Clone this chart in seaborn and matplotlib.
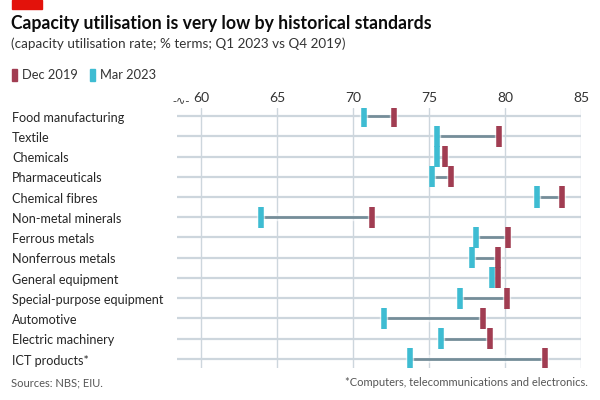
import numpy as np
import pandas as pd
import matplotlib
matplotlib.use("Agg")
import matplotlib.pyplot as plt
import matplotlib.patheffects as pe
import matplotlib.transforms as mtransforms
import seaborn as sns

# Values
industries = [
    "Food manufacturing", "Textile", "Chemicals", "Pharmaceuticals",
    "Chemical fibres", "Non-metal minerals", "Ferrous metals",
    "Nonferrous metals", "General equipment", "Special-purpose equipment",
    "Automotive", "Electric machinery", "ICT products*",
]
dec_2019 = [72.7, 79.6, 76.0, 76.4, 83.7, 71.2, 80.2, 79.5, 79.5, 80.1, 78.5, 79.0, 82.6]
mar_2023 = [70.7, 75.5, 75.5, 75.2, 82.1, 63.9, 78.1, 77.8, 79.1, 77.0, 72.0, 75.8, 73.7]
x_ticks = [60, 65, 70, 75, 80, 85]

RED = "#A13D52"
CYAN = "#3EBCD2"
LINE = "#758D99"
GRID = "#CDD6DD"

sns.set_theme(style="white")
plt.rcParams["font.family"] = ["Lato", "DejaVu Sans"]

df = pd.DataFrame({"industry": industries, "Dec 2019": dec_2019, "Mar 2023": mar_2023})
df["pos"] = np.arange(len(df))
long = df.melt(id_vars=["industry", "pos"], value_vars=["Dec 2019", "Mar 2023"],
               var_name="period", value_name="rate")

fig = plt.figure(figsize=(6, 4), dpi=100)
ax = fig.add_axes([177 / 600, 1 - 368 / 400, (581.3 - 177) / 600, (368 - 108) / 400])

# gridlines
for t in x_ticks:
    ax.axvline(t, color=GRID, lw=1, zorder=0)
for p in df["pos"]:
    ax.axhline(p, color=GRID, lw=1.6, zorder=0)

# connectors
ax.hlines(df["pos"], df["Mar 2023"], df["Dec 2019"], color=LINE, lw=2, zorder=2)

sns.scatterplot(data=long, x="rate", y="pos", hue="period",
                palette={"Dec 2019": RED, "Mar 2023": CYAN},
                marker="|", s=230, linewidth=4, legend=False, ax=ax, zorder=3)
for coll in ax.collections:
    coll.set_path_effects([pe.Stroke(linewidth=6, foreground="white", alpha=0.6), pe.Normal()])

ax.set_xlim(58.4, 85)
ax.set_ylim(12.45, -0.4)
ax.set_xticks(x_ticks)
ax.xaxis.tick_top()
ax.tick_params(axis="x", length=0, pad=3, labelsize=10, labelcolor="#333333")
ax.set_yticks([])
ax.set_xlabel("")
ax.set_ylabel("")
for s in ax.spines.values():
    s.set_visible(False)

# axis-break squiggle next to the first tick
ax.text(58.65, -0.55, "-\u223F-", ha="center", va="bottom",
        fontsize=8, color="#333333", family=["DejaVu Sans"])

# category labels
label_tr = mtransforms.blended_transform_factory(fig.transFigure, ax.transData)
for name, p in zip(industries, df["pos"]):
    ax.text(12 / 600, p + 0.08, name, transform=label_tr,
            ha="left", va="center", fontsize=9.1, color="#262626")

# header
fig.patches.append(plt.Rectangle((12 / 600, 1 - 9 / 400), 30 / 600, 9 / 400,
                                 transform=fig.transFigure, color="#E3120B"))
fig.text(11 / 600, 1 - 23 / 400, "Capacity utilisation is very low by historical standards",
         fontsize=12.7, fontweight="bold", va="center", color="#0C0C0C")
fig.text(11 / 600, 1 - 44 / 400, "(capacity utilisation rate; % terms; Q1 2023 vs Q4 2019)",
         fontsize=9.7, va="center", color="#333333")

# legend
fig.patches.append(plt.Rectangle((12 / 600, 1 - 81 / 400), 5 / 600, 12 / 400,
                                 transform=fig.transFigure, color=RED))
fig.text(22 / 600, 1 - 75 / 400, "Dec 2019", fontsize=9.3, va="center", color="#333333")
fig.patches.append(plt.Rectangle((90 / 600, 1 - 81 / 400), 5 / 600, 12 / 400,
                                 transform=fig.transFigure, color=CYAN))
fig.text(100 / 600, 1 - 75 / 400, "Mar 2023", fontsize=9.3, va="center", color="#333333")

# footer
fig.text(11 / 600, 1 - 383 / 400, "Sources: NBS; EIU.", fontsize=8, va="center", color="#555555")
fig.text(588 / 600, 1 - 383 / 400, "*Computers, telecommunications and electronics.",
         fontsize=8, va="center", ha="right", color="#555555")

fig.savefig("out.png", dpi=100, facecolor="white")
